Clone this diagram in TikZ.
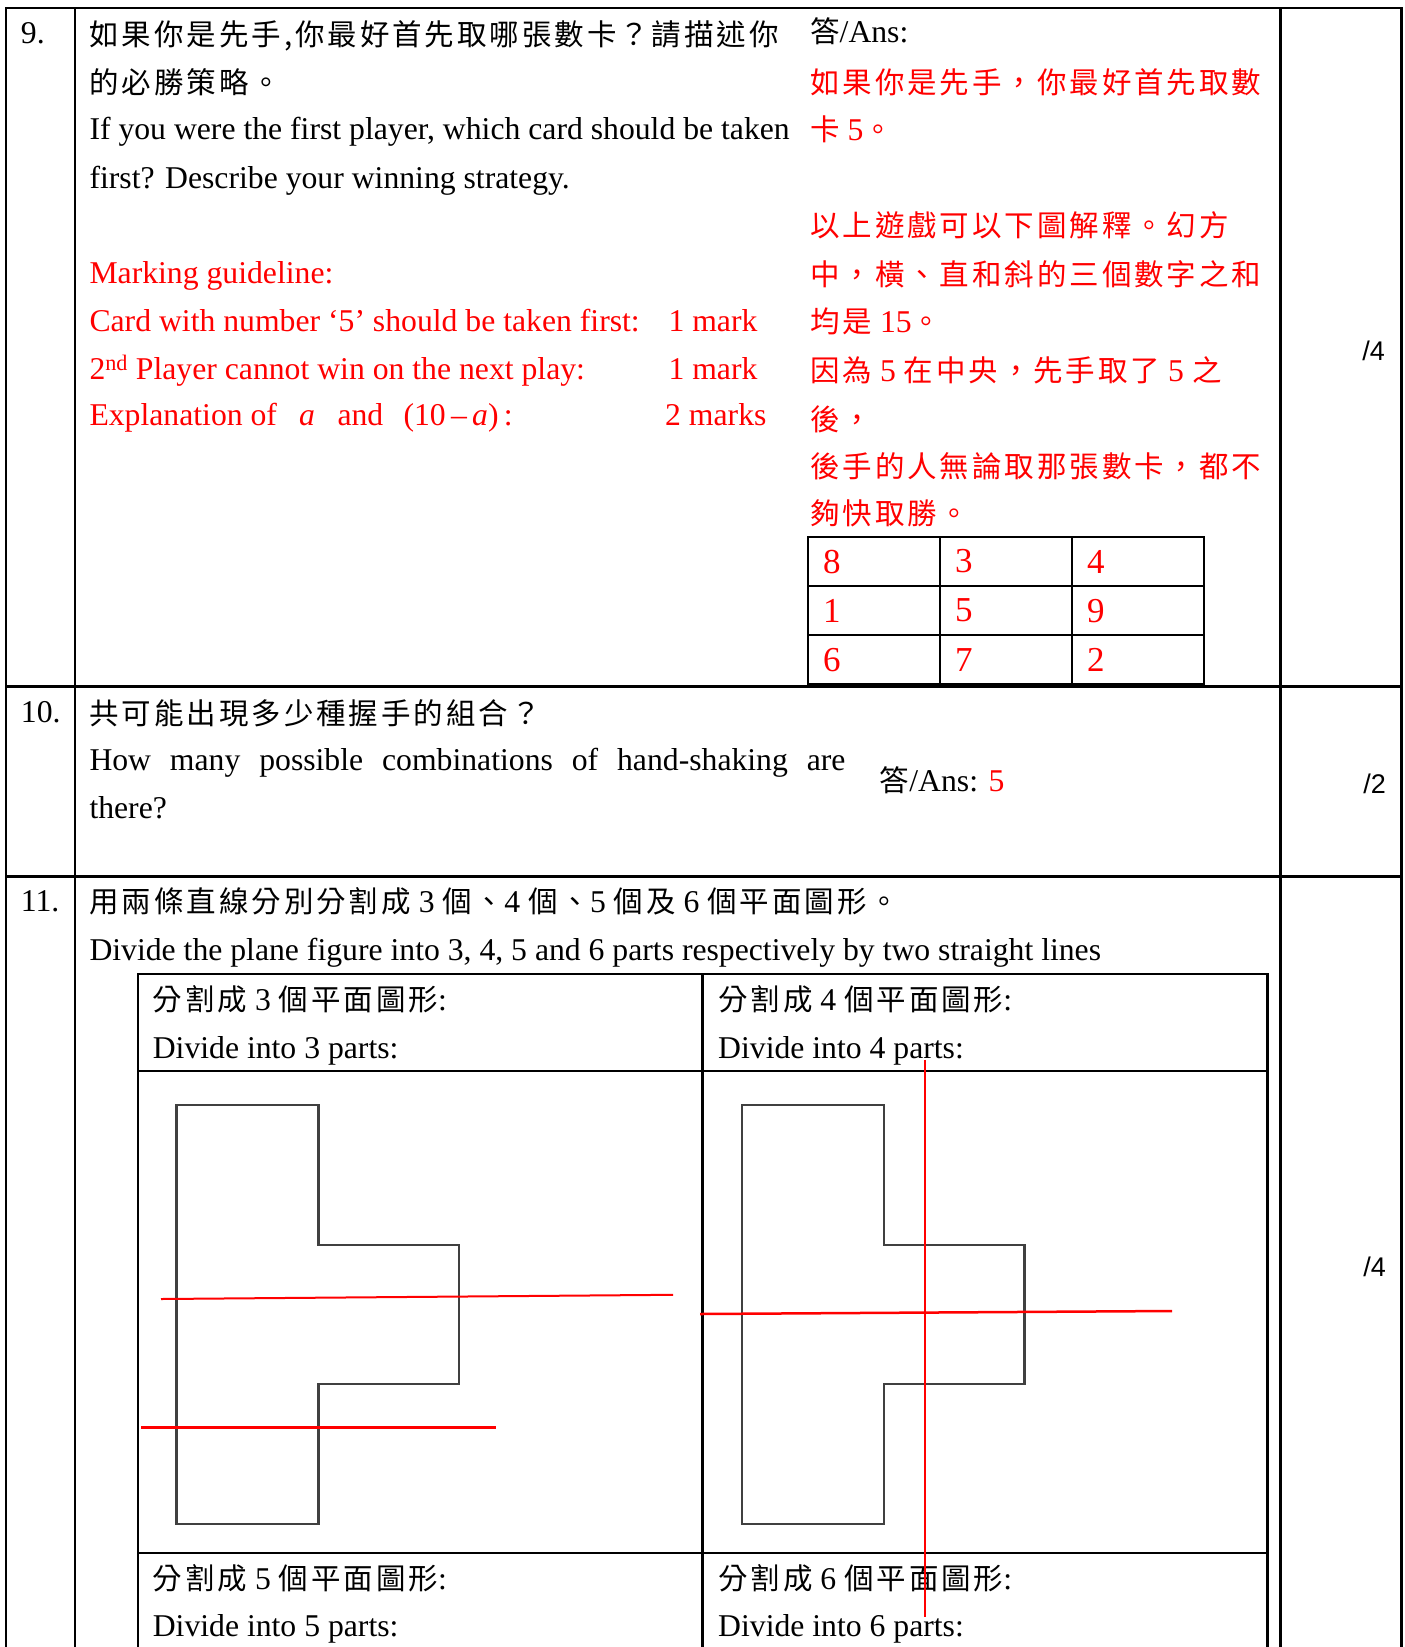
\documentclass[tikz,border=0pt]{standalone}
\usepackage{fontspec}
\setmainfont{Liberation Serif}
\newfontfamily\cjk[Scale=0.93,LetterSpace=10]{Noto Sans CJK TC}
\newfontfamily\sansnum{Liberation Sans}
\newcommand{\zh}[1]{{\cjk #1}}
\usetikzlibrary{matrix,positioning}

\begin{document}
\begin{tikzpicture}[x=1pt, y=-1pt,
        every node/.style={inner sep=0pt, anchor=base west, font=\fontsize{31.7}{38}\selectfont},
        redtext/.style={text=red},
        score/.style={anchor=base east, font=\sansnum\fontsize{27}{30}\selectfont},
        rule/.style={line width=2.2pt},
        heavy rule/.style={line width=2.7pt},
        cutline/.style={draw=red, line width=2pt},
        plate/.style={draw=black!75, line width=2.6pt}]
    \useasboundingbox (0,0) rectangle (1405,1647);

    % the frame of the marking scheme
    \draw[rule] (6.2,1650) -- (6.2,7.7) -- (1401.5,7.7) -- (1401.5,1650);     % outer box
    \draw[rule] (75.2,7.7) -- (75.2,1650);                                    % number column
    \draw[rule] (1280.5,7.7) -- (1280.5,1650);                                % score column
    \draw[heavy rule] (6.2,686.7) -- (1401.5,686.7);                          % below question 9
    \draw[heavy rule] (6.2,876.7) -- (1401.5,876.7);                          % below question 10

    % question 9
    \node (n9)    at (20.7,43.3)  {9.};
    \node (q9zhA) at (89.3,45)    {\zh{如果你是先手,你最好首先取哪張數卡？請描述你}};
    \node (q9zhB) at (89.3,93)    {\zh{的必勝策略。}};
    \node (q9enA) at (89.3,139.3) {If you were the first player, which card should be taken};
    \node (q9enB) at (89.3,188.3) {first? Describe your winning strategy.};
    \node[redtext] (mg0)  at (89.3,283.3) {Marking guideline:};
    \node[redtext] (mg1)  at (89.3,331.7) {Card with number ‘5’ should be taken first:};
    \node[redtext] (mg1p) at (668.3,331.7) {1 mark};
    \node[redtext] (mg2)  at (89.3,379.3) {2\textsuperscript{nd} Player cannot win on the next play:};
    \node[redtext] (mg2p) at (668.3,379.3) {1 mark};
    \node[redtext] (mg3)  at (89.3,425)   {Explanation of};
    \node[redtext] (mg3a) at (299,425)    {\itshape a};
    \node[redtext] (mg3b) at (337.3,425)  {and};
    \node[redtext] (mg3c) at (403.3,425)  {(10\,–\,\textit{a})\,:};
    \node[redtext] (mg3p) at (665,425)    {2 marks};

    % answer of question 9
    \node (ans9) at (810,42.4) {\zh{答}/Ans:};
    \node[redtext] (a9a) at (810,93)    {\zh{如果你是先手，你最好首先取數}};
    \node[redtext] (a9b) at (810,140)   {\zh{卡} 5\zh{。}};
    \node[redtext] (a9c) at (810,236)   {\zh{以上遊戲可以下圖解釋。幻方}};
    \node[redtext] (a9d) at (810,285)   {\zh{中，橫、直和斜的三個數字之和}};
    \node[redtext] (a9e) at (810,332)   {\zh{均是} 15\zh{。}};
    \node[redtext] (a9f) at (810,381)   {\zh{因為} 5 \zh{在中央，先手取了} 5 \zh{之}};
    \node[redtext] (a9g) at (810,430)   {\zh{後，}};
    \node[redtext] (a9h) at (810,477)   {\zh{後手的人無論取那張數卡，都不}};
    \node[redtext] (a9i) at (810,524)   {\zh{夠快取勝。}};

    % magic square
    \matrix (sq) [matrix of nodes, anchor=north west, inner sep=0pt, column sep=-2.3pt, row sep=-2.3pt,
        nodes={draw, line width=2.3pt, anchor=center, text=red, font=\fontsize{35}{40}\selectfont,
            text width=102pt, inner xsep=15pt, inner ysep=0pt, minimum height=49.1pt, align=left}]
        at (806.65,535.65) {
            8 & 3 & 4 \\
            1 & 5 & 9 \\
            6 & 7 & 2 \\
        };
    \node[score] (sc9) at (1385,360) {/4};

    % question 10
    \node (n10)    at (20.7,722.7) {10.};
    \node (q10zh)  at (89.3,724)   {\zh{共可能出現多少種握手的組合？}};
    \node (q10enA) at (89.3,770)   {\makebox[756pt][s]{How many possible combinations of hand-shaking are}};
    \node (q10enB) at (89.3,818.3) {there?};
    \node (ans10)  at (879.7,791.5) {\zh{答}/Ans: \textcolor{red}{5}};
    \node[score] (sc10) at (1386,793) {/2};

    % question 11
    \node (n11)   at (20.7,911)   {11.};
    \node (q11zh) at (89.3,912.5) {\zh{用兩條直線分別分割成} 3 \zh{個、}4 \zh{個、}5 \zh{個及} 6 \zh{個平面圖形。}};
    \node (q11en) at (89.3,960)   {Divide the plane figure into 3, 4, 5 and 6 parts respectively by two straight lines};
    \node[score] (sc11) at (1386,1276) {/4};

    % the inner table of question 11
    \draw[rule] (138,1650) -- (138,973.8) -- (1267.5,973.8) -- (1267.5,1650);  % box
    \draw[rule] (702.5,973.8) -- (702.5,1650);                                % middle
    \draw[rule] (138,1070.7) -- (1267.5,1070.7);                              % under the headings
    \draw[rule] (138,1552.8) -- (1267.5,1552.8);                              % under the figures

    \node (h3zh) at (152.6,1010)   {\zh{分割成} 3 \zh{個平面圖形}:};
    \node (h3en) at (152.6,1058)   {Divide into 3 parts:};
    \node (h4zh) at (718,1010)     {\zh{分割成} 4 \zh{個平面圖形}:};
    \node (h4en) at (718,1058)     {Divide into 4 parts:};
    \node (h5zh) at (152.6,1589)   {\zh{分割成} 5 \zh{個平面圖形}:};
    \node (h5en) at (152.6,1636.7) {Divide into 5 parts:};
    \node (h6zh) at (718,1589)     {\zh{分割成} 6 \zh{個平面圖形}:};
    \node (h6en) at (718,1636.7)   {Divide into 6 parts:};

    % the plane figures
    \draw[plate] (176.5,1105) -- (318.5,1105) -- (318.5,1245) -- (459,1245) -- (459,1384)
        -- (318.5,1384) -- (318.5,1524) -- (176.5,1524) -- cycle;                % 3 parts
    \draw[plate] (742,1105) -- (884,1105) -- (884,1245) -- (1024.5,1245) -- (1024.5,1384)
        -- (884,1384) -- (884,1524) -- (742,1524) -- cycle;                      % 4 parts

    % the cutting lines
    \coordinate (c3a) at (161,1299);   \coordinate (c3b) at (673,1294.8);
    \coordinate (c3c) at (141,1427);   \coordinate (c3d) at (495.5,1427);
    \coordinate (c4a) at (700,1314);   \coordinate (c4b) at (1172,1311);
    \coordinate (c4c) at (925,1059.5); \coordinate (c4d) at (925,1617);
    \draw[cutline] (c3a) -- (c3b);
    \draw[cutline, line width=3pt] (c3c) -- (c3d);
    \draw[cutline, line width=2.5pt] (c4a) -- (c4b);
    \draw[cutline, line width=1.5pt] (c4c) -- (c4d);
\end{tikzpicture}
\end{document}
